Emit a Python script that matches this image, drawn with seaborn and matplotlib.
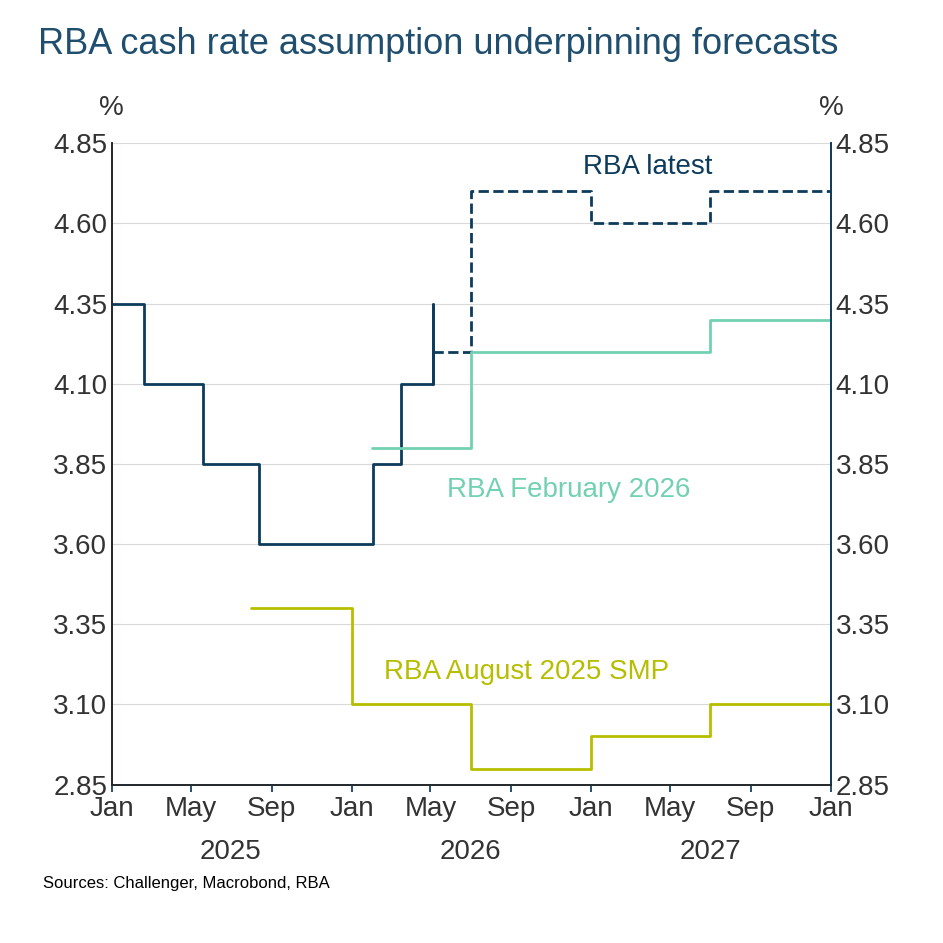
import pandas as pd
import seaborn as sns
import matplotlib.pyplot as plt
import matplotlib.dates as mdates

# step series: dates where the level changes, and the level after each change
actual_dates = ['2025-01-01', '2025-02-18', '2025-05-20', '2025-08-12', '2026-02-03', '2026-03-17', '2026-05-05']
actual_vals = [4.35, 4.10, 3.85, 3.60, 3.85, 4.10, 4.35]

latest_dates = ['2026-05-05', '2026-07-01', '2027-01-01', '2027-07-01', '2028-01-01']
latest_vals = [4.20, 4.70, 4.60, 4.70, 4.70]

feb_dates = ['2026-02-01', '2026-07-01', '2027-07-01', '2028-01-01']
feb_vals = [3.90, 4.20, 4.30, 4.30]

aug_dates = ['2025-08-01', '2026-01-01', '2026-07-01', '2027-01-01', '2027-07-01', '2028-01-01']
aug_vals = [3.40, 3.10, 2.90, 3.00, 3.10, 3.10]

yticks = [2.85, 3.10, 3.35, 3.60, 3.85, 4.10, 4.35, 4.60, 4.85]
years = ['2025', '2026', '2027']

navy = '#0d3b5c'
teal = '#72d1b0'
olive = '#b7be00'
title_col = '#1f4e6e'

sns.set_theme(style='white')
plt.rcParams['font.family'] = ['Liberation Sans', 'DejaVu Sans']

fig, ax = plt.subplots(figsize=(9.43, 9.43), dpi=100)
fig.subplots_adjust(left=0.119, right=0.881, top=0.848, bottom=0.168)

def step(dates, vals, color, ls='-'):
    df = pd.DataFrame({'date': pd.to_datetime(dates), 'val': vals})
    sns.lineplot(data=df, x='date', y='val', ax=ax, color=color, linestyle=ls,
                 drawstyle='steps-post', linewidth=2)

step(actual_dates, actual_vals, navy)
# final jump in the actual series is vertical at the last date
ax.plot(pd.to_datetime([actual_dates[-1]] * 2), [4.10, 4.35], color=navy, lw=2)
step(latest_dates, latest_vals, navy, '--')
step(feb_dates, feb_vals, teal)
step(aug_dates, aug_vals, olive)

ax.set_xlim(pd.Timestamp('2025-01-01'), pd.Timestamp('2028-01-01'))
ax.set_ylim(2.85, 4.85)
ax.set_yticks(yticks)
ax.set_yticklabels([f'{v:.2f}' for v in yticks])
ax.yaxis.grid(True, color='#d9d9d9', lw=0.8)
ax.set_xlabel('')
ax.set_ylabel('')
ax.xaxis.set_major_locator(mdates.MonthLocator(bymonth=[1, 5, 9]))
ax.xaxis.set_major_formatter(mdates.DateFormatter('%b'))
ax.tick_params(axis='both', labelsize=20, colors='#333333', length=0)
ax.tick_params(axis='x', bottom=True, length=5, color=navy)
ax.spines['top'].set_visible(False)
for s in ['left', 'right', 'bottom']:
    ax.spines[s].set_color(navy)

ax2 = ax.twinx()
ax2.set_ylim(2.85, 4.85)
ax2.set_yticks(yticks)
ax2.set_yticklabels([f'{v:.2f}' for v in yticks])
ax2.tick_params(axis='y', labelsize=20, colors='#333333', length=0)
ax2.spines['top'].set_visible(False)
ax2.spines['right'].set_color(navy)

for yr in years:
    ax.text(pd.Timestamp(f'{yr}-07-01'), -0.085, yr, transform=ax.get_xaxis_transform(),
            ha='center', va='top', fontsize=20, color='#333333')

ax.text(pd.Timestamp('2027-03-28'), 4.775, 'RBA latest', color=navy, fontsize=20, ha='center', va='center')
ax.text(pd.Timestamp('2026-11-27'), 3.77, 'RBA February 2026', color=teal, fontsize=20, ha='center', va='center')
ax.text(pd.Timestamp('2026-09-25'), 3.20, 'RBA August 2025 SMP', color=olive, fontsize=20, ha='center', va='center')

fig.text(0.04, 0.953, 'RBA cash rate assumption underpinning forecasts', fontsize=26, color=title_col, va='center')
fig.text(0.118, 0.878, '%', fontsize=20, color='#333333', ha='center')
fig.text(0.882, 0.878, '%', fontsize=20, color='#333333', ha='center')
fig.text(0.046, 0.058, 'Sources: Challenger, Macrobond, RBA', fontsize=12, color='black')

fig.savefig('out.png', dpi=100)
